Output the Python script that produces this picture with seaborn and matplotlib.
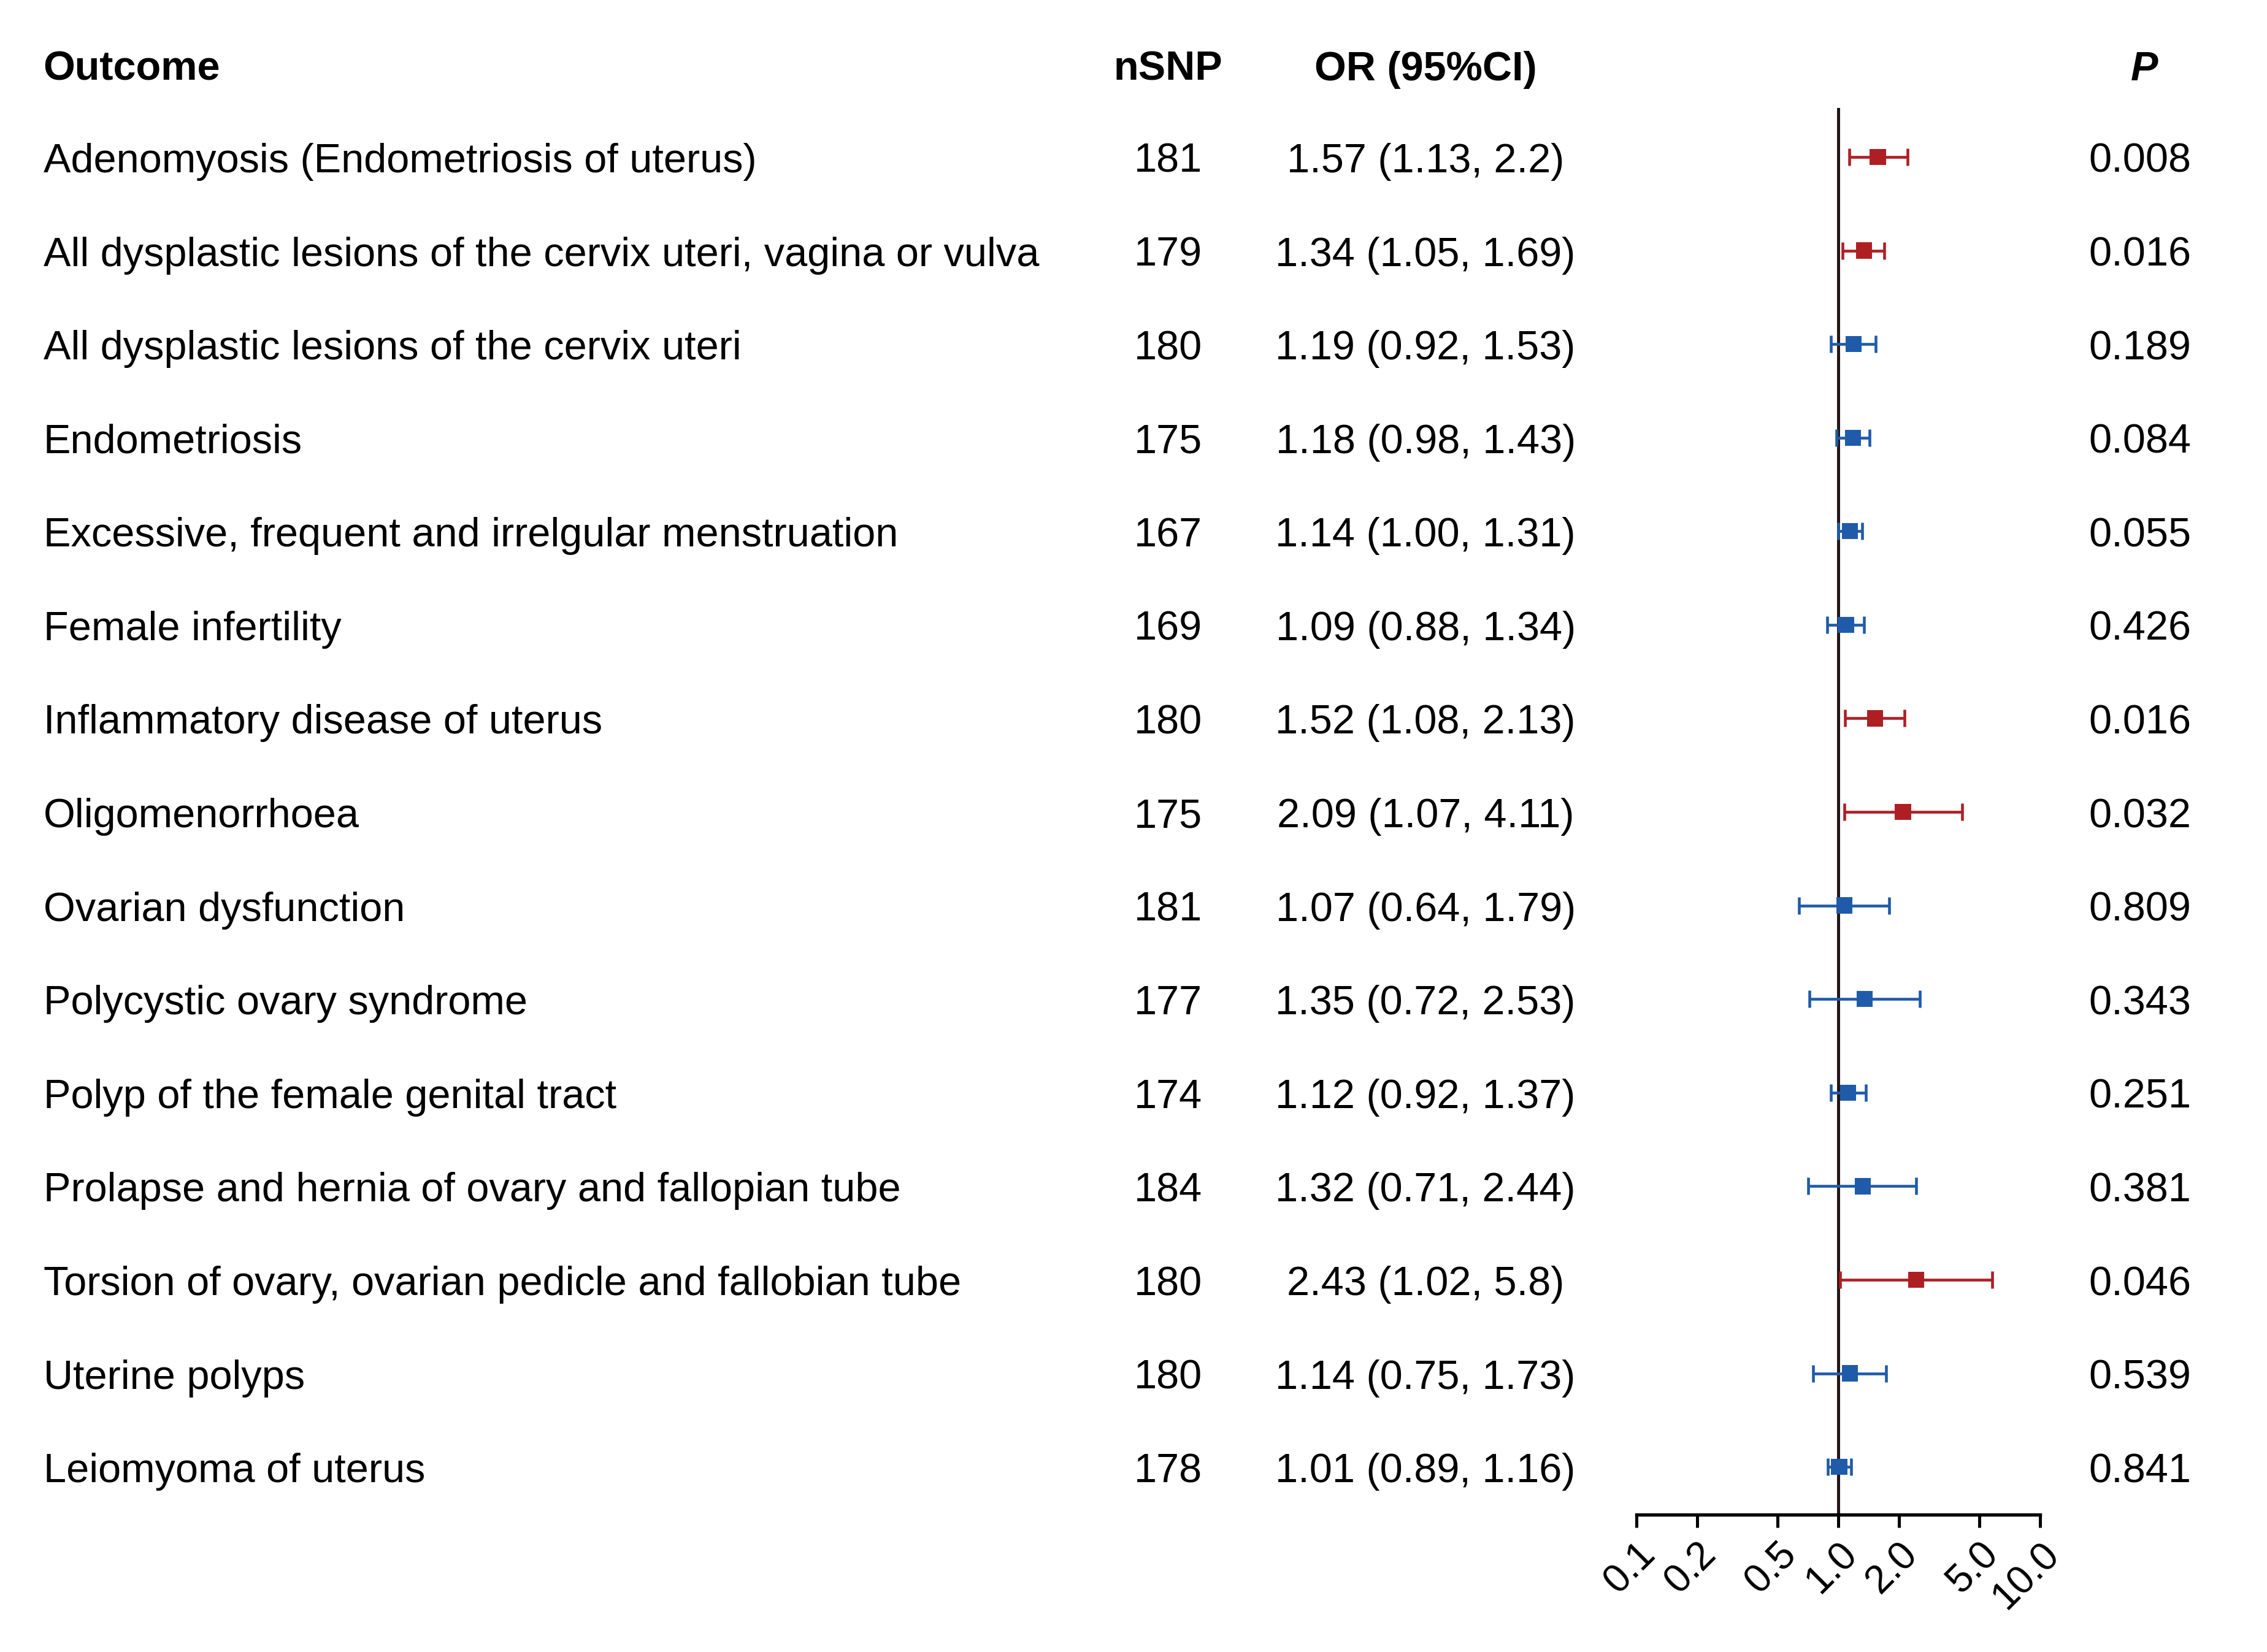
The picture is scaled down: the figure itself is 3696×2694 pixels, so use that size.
import numpy as np
import pandas as pd
import matplotlib
matplotlib.use("Agg")
import matplotlib.pyplot as plt
import matplotlib.transforms as mtransforms
import seaborn as sns

outcomes = [
    "Adenomyosis (Endometriosis of uterus)",
    "All dysplastic lesions of the cervix uteri, vagina or vulva",
    "All dysplastic lesions of the cervix uteri",
    "Endometriosis",
    "Excessive, frequent and irrelgular menstruation",
    "Female infertility",
    "Inflammatory disease of uterus",
    "Oligomenorrhoea",
    "Ovarian dysfunction",
    "Polycystic ovary syndrome",
    "Polyp of the female genital tract",
    "Prolapse and hernia of ovary and fallopian tube",
    "Torsion of ovary, ovarian pedicle and fallobian tube",
    "Uterine polyps",
    "Leiomyoma of uterus",
]
nsnp = [181, 179, 180, 175, 167, 169, 180, 175, 181, 177, 174, 184, 180, 180, 178]
or_str = ["1.57", "1.34", "1.19", "1.18", "1.14", "1.09", "1.52", "2.09", "1.07", "1.35", "1.12", "1.32", "2.43", "1.14", "1.01"]
lo_str = ["1.13", "1.05", "0.92", "0.98", "1.00", "0.88", "1.08", "1.07", "0.64", "0.72", "0.92", "0.71", "1.02", "0.75", "0.89"]
hi_str = ["2.2", "1.69", "1.53", "1.43", "1.31", "1.34", "2.13", "4.11", "1.79", "2.53", "1.37", "2.44", "5.8", "1.73", "1.16"]
p_str = ["0.008", "0.016", "0.189", "0.084", "0.055", "0.426", "0.016", "0.032", "0.809", "0.343", "0.251", "0.381", "0.046", "0.539", "0.841"]
tick_vals = [0.1, 0.2, 0.5, 1.0, 2.0, 5.0, 10.0]
tick_labels = ["0.1", "0.2", "0.5", "1.0", "2.0", "5.0", "10.0"]

df = pd.DataFrame({
    "outcome": outcomes,
    "nsnp": nsnp,
    "OR": [float(v) for v in or_str],
    "lo": [float(v) for v in lo_str],
    "hi": [float(v) for v in hi_str],
    "p": [float(v) for v in p_str],
})
df["row"] = np.arange(len(df))
df["sig"] = np.where(df["p"] < 0.05, "sig", "ns")

sns.set_theme(style="white")
plt.rcParams["font.family"] = ["Liberation Sans", "DejaVu Sans"]
plt.rcParams["text.color"] = "black"
plt.rcParams["xtick.color"] = "black"

RED = "#AE1F24"
BLUE = "#1F5BA8"
palette = {"sig": RED, "ns": BLUE}

W, H = 1568, 1143
fig = plt.figure(figsize=(3696 / 300, 2695 / 300), dpi=300)
ax = fig.add_axes([1132 / W, 1 - 1048 / H, (1411 - 1132) / W, (1048 - 75) / H])

ax.set_xscale("log")
ax.set_xlim(0.1, 10)
ax.set_ylim(14.51, -0.525)

# CI lines
for s, col in palette.items():
    sub = df[df["sig"] == s]
    ax.errorbar(sub["OR"], sub["row"],
                xerr=[sub["OR"] - sub["lo"], sub["hi"] - sub["OR"]],
                fmt="none", ecolor=col, elinewidth=1.1, capsize=3.4, capthick=1.1, zorder=3)

ax.axvline(1.0, color="#231816", lw=1.2, zorder=2)

sns.scatterplot(data=df, x="OR", y="row", hue="sig", palette=palette, marker="s",
                s=40, linewidth=0, legend=False, ax=ax, zorder=4)

ax.set_xlabel("")
ax.set_ylabel("")
ax.set_yticks([])
ax.set_xticks(tick_vals)
ax.set_xticklabels(tick_labels, rotation=45, ha="right", rotation_mode="anchor", fontsize=15.5)
ax.xaxis.set_minor_locator(matplotlib.ticker.NullLocator())
ax.tick_params(axis="x", direction="out", length=5, width=1.2, color="black", pad=3, bottom=True,
               labelcolor="black")
for side in ["top", "right", "left"]:
    ax.spines[side].set_visible(False)
ax.spines["bottom"].set_linewidth(1.3)
ax.spines["bottom"].set_color("black")

trans = mtransforms.blended_transform_factory(fig.transFigure, ax.transData)
fs = 16
hy = -0.985
kw = dict(transform=trans, va="center_baseline", fontsize=fs, clip_on=False, color="black")
ax.text(30 / W, hy, "Outcome", ha="left", fontweight="bold", **kw)
ax.text(808 / W, hy, "nSNP", ha="center", fontweight="bold", **kw)
ax.text(986 / W, hy, "OR (95%CI)", ha="center", fontweight="bold", **kw)
ax.text(1483 / W, hy, "P", ha="center", fontweight="bold", style="italic", **kw)

for i in range(len(df)):
    ax.text(30 / W, i, outcomes[i], ha="left", **kw)
    ax.text(808 / W, i, str(nsnp[i]), ha="center", **kw)
    ax.text(986 / W, i, f"{or_str[i]} ({lo_str[i]}, {hi_str[i]})", ha="center", **kw)
    ax.text(1480 / W, i, p_str[i], ha="center", **kw)

fig.savefig("out.png", dpi=300, facecolor="white")
